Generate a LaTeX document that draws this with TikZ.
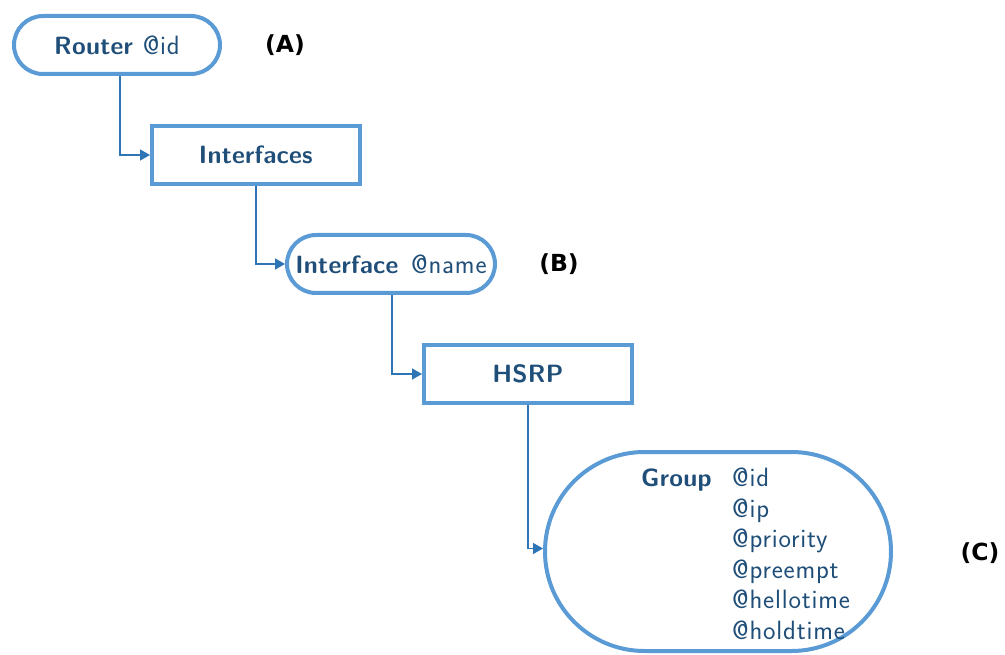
\documentclass[tikz,border=0pt]{standalone}
\usepackage{fontspec}
\setsansfont{Latin Modern Sans}[UprightFeatures={LetterSpace=3}, BoldFeatures={LetterSpace=1}]
\usetikzlibrary{shapes.misc,arrows.meta}
\newfontfamily\lblfont{DejaVu Sans}
\newcommand{\attrsize}{\fontsize{26.5}{30.5}\selectfont}
\definecolor{outl}{RGB}{91,155,213}
\definecolor{txt}{RGB}{31,78,121}
\definecolor{arr}{RGB}{46,117,182}
\begin{document}
\begin{tikzpicture}[x=1pt,y=-1pt,
  nodefont/.style={font=\sffamily\fontsize{25}{30.5}\selectfont, text=txt},
  pill/.style={nodefont, draw=outl, line width=4pt, rounded rectangle, minimum width=206pt, minimum height=58pt, inner sep=0pt},
  boxnode/.style={nodefont, draw=outl, line width=4pt, rectangle, minimum width=208pt, minimum height=58pt, inner sep=0pt},
  conn/.style={draw=arr, line width=1.4pt, -{Triangle[length=10pt,width=11pt]}},
  lbl/.style={font=\lblfont\bfseries\fontsize{23.5}{28}\selectfont, text=black}
]
\useasboundingbox (0,0) rectangle (1005,655);
\node[pill] (router) at (117,45) {\textbf{Router}\hspace{1pt} {\attrsize @id}};
\node[boxnode] (ifaces) at (256,155) {\textbf{Interfaces}};
\node[pill, minimum width=208pt] (iface) at (391,264) {\textbf{Interface}\hspace{4pt} {\attrsize @name}};
\node[boxnode] (hsrp) at (528,374) {\textbf{HSRP}};
\node[draw=outl, line width=4pt, rounded rectangle, minimum width=346pt, minimum height=199pt, inner sep=0pt] (group) at (718,551.5) {};
\node[nodefont, anchor=base west, inner sep=0pt] (grouplbl) at (641,486) {\textbf{Group}};
\node[inner sep=0pt, anchor=north west, align=left, font=\sffamily\attrsize, text=txt] (attrs) at (732,468) {@id\\@ip\\@priority\\@preempt\\@hellotime\\@holdtime};
\node[lbl] (la) at (285,45) {(A)};
\node[lbl] (lb) at (559,264) {(B)};
\node[lbl] (lc) at (980,553) {(C)};
\draw[conn] ([xshift=3pt]router.south) |- (ifaces.west);
\draw[conn] (ifaces.south) |- (iface.west);
\draw[conn] ([xshift=1pt]iface.south) |- (hsrp.west);
\draw[conn] (hsrp.south) |- ([yshift=3pt]group.west);
\end{tikzpicture}
\end{document}
